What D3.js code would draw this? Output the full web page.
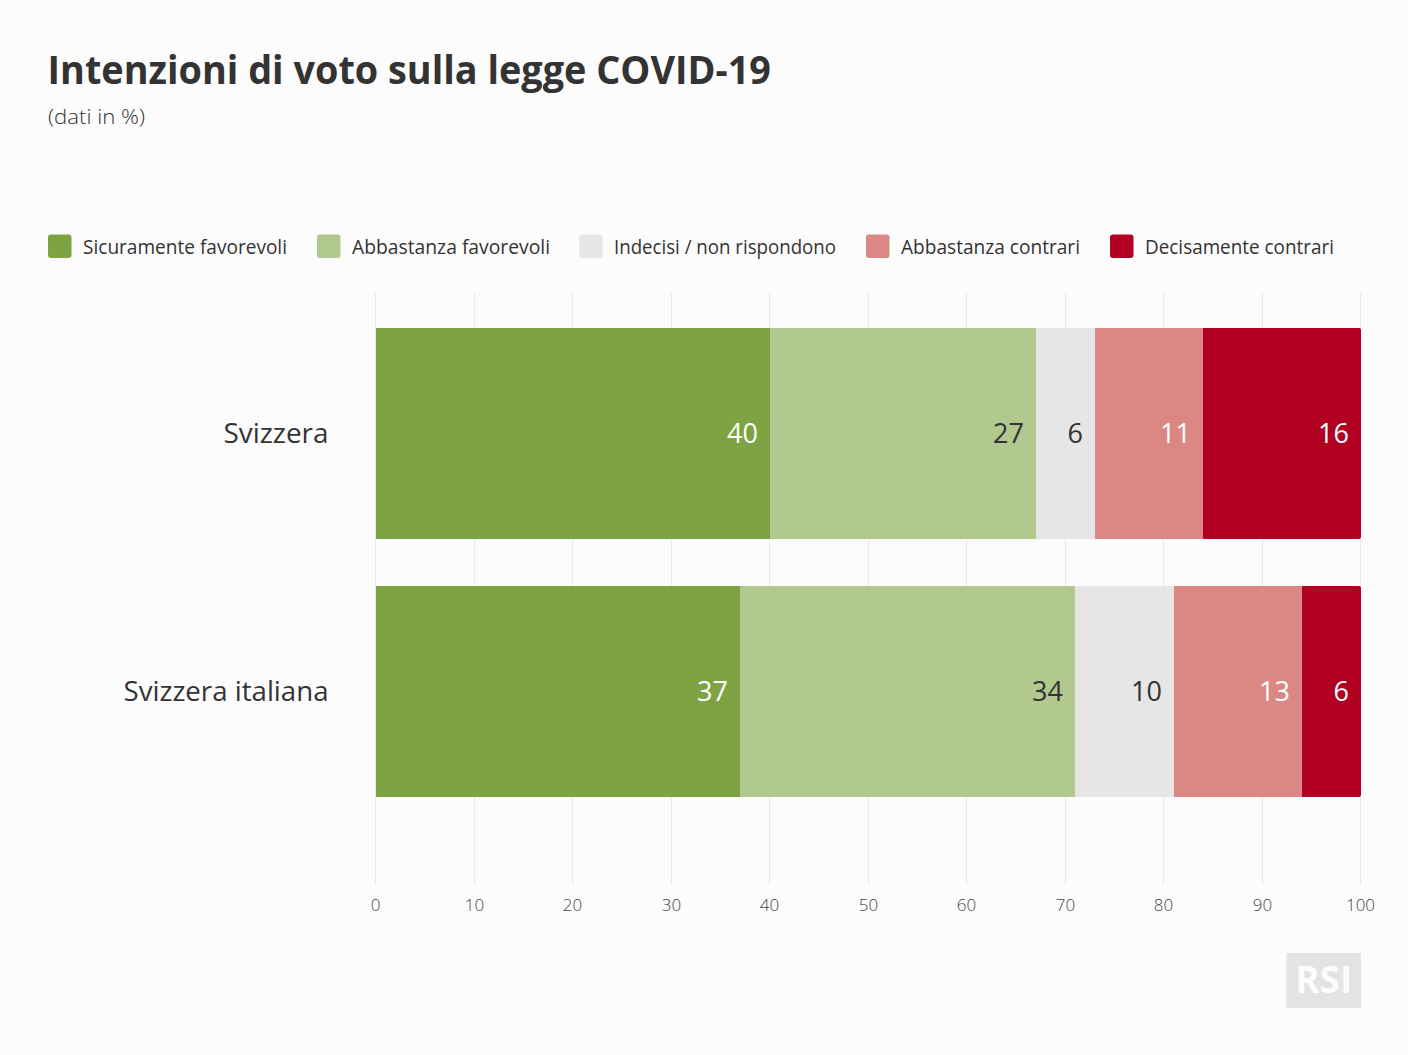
<!DOCTYPE html>
<html><head><meta charset="utf-8">
<script src="https://cdn.jsdelivr.net/npm/d3@7"></script>
<style>
html,body{margin:0;padding:0;background:#fcfcfc}
svg{display:block}
text{font-family:"Open Sans","Noto Sans",sans-serif;fill:#333}
</style></head><body>
<svg id="c" width="1408" height="1055"></svg>
<script>
const categories=["Svizzera","Svizzera italiana"];
const seriesNames=["Sicuramente favorevoli","Abbastanza favorevoli","Indecisi / non rispondono","Abbastanza contrari","Decisamente contrari"];
const sicuramente=[40,37];
const abbastanzaFav=[27,34];
const indecisi=[6,10];
const abbastanzaCon=[11,13];
const decisamente=[16,6];
const colors=["#7ea343","#b1c98f","#e6e6e6","#db8783","#b10021"];
const labelColors=["#fff","#333","#333","#fff","#fff"];
const ticks=[0,10,20,30,40,50,60,70,80,90,100];
const legendX=[48,317,579,866,1110];
const legendW=[204,198,222,179,189];

const seriesValues=[sicuramente,abbastanzaFav,indecisi,abbastanzaCon,decisamente];
const svg=d3.select("#c");
svg.append("rect").attr("width",1408).attr("height",1055).attr("fill","#fcfcfc");
const x=d3.scaleLinear().domain([0,100]).rangeRound([376,1361]);
const y=d3.scaleBand().domain(categories).range([328,797]).paddingInner(47/258).paddingOuter(0);

function fit(sel,w){sel.attr("textLength",w).attr("lengthAdjust","spacingAndGlyphs");return sel;}

fit(svg.append("text").attr("x",47.5).attr("y",84).attr("font-size",39).attr("font-weight",700).style("fill","#333").text("Intenzioni di voto sulla legge COVID-19"),723.5);
fit(svg.append("text").attr("x",48).attr("y",124).attr("font-size",21).attr("font-weight",300).text("(dati in %)"),97);

const lg=svg.append("g").selectAll("g").data(seriesNames).join("g").attr("transform",(d,i)=>`translate(${legendX[i]},234.5)`);
lg.append("rect").attr("width",23.5).attr("height",23.5).attr("rx",3).attr("fill",(d,i)=>colors[i]);
lg.append("text").attr("x",35).attr("y",19).attr("font-size",20).text(d=>d).each(function(d,i){fit(d3.select(this),legendW[i]);});

const axis=d3.axisBottom(x).tickValues(ticks).tickSize(592).offset(-0.5).tickFormat(d3.format("d"));
const ax=svg.append("g").attr("transform","translate(0,293)").call(axis);
ax.select(".domain").remove();
ax.selectAll("line").attr("stroke","#e8e8e8").attr("stroke-width",1);
ax.selectAll("text").attr("y",618).attr("dy",0).attr("font-size",17).attr("font-weight",300).style("fill","#444").style("font-family",'"Open Sans"');

const stack=seriesValues.map((vals,s)=>vals.map((v,c)=>({c,s,v,x0:d3.sum(seriesValues.slice(0,s),a=>a[c])})));
const bars=svg.append("g");
stack.forEach((arr,s)=>{
  const g=bars.append("g");
  g.selectAll("path").data(arr).join("path")
   .attr("fill",colors[s])
   .attr("d",d=>{
     const x0=x(d.x0),x1=x(d.x0+d.v),y0=y(categories[d.c]),y1=y0+y.bandwidth(),r=2;
     if(s===seriesValues.length-1)
       return `M${x0},${y0}H${x1-r}Q${x1},${y0} ${x1},${y0+r}V${y1-r}Q${x1},${y1} ${x1-r},${y1}H${x0}Z`;
     return `M${x0},${y0}H${x1}V${y1}H${x0}Z`;
   });
  g.selectAll("text").data(arr).join("text")
   .attr("x",d=>x(d.x0+d.v)-12).attr("y",d=>y(categories[d.c])+y.bandwidth()/2+9.5)
   .attr("text-anchor","end").attr("font-size",27)
   .style("fill",labelColors[s]).text(d=>d.v);
});

svg.append("g").selectAll("text").data(categories).join("text")
  .attr("x",328.5).attr("y",d=>y(d)+y.bandwidth()/2+9.5).attr("text-anchor","end").attr("font-size",27).text(d=>d)
  .each(function(d,i){fit(d3.select(this),[105,205][i]);});

svg.append("rect").attr("x",1286.5).attr("y",953).attr("width",74.5).attr("height",55).attr("fill","#e3e3e3");
svg.append("text").attr("x",1323.7).attr("y",993).attr("text-anchor","middle").attr("font-size",37).attr("font-weight",700).style("fill","#fcfcfc").text("RSI");
</script>
</body></html>
